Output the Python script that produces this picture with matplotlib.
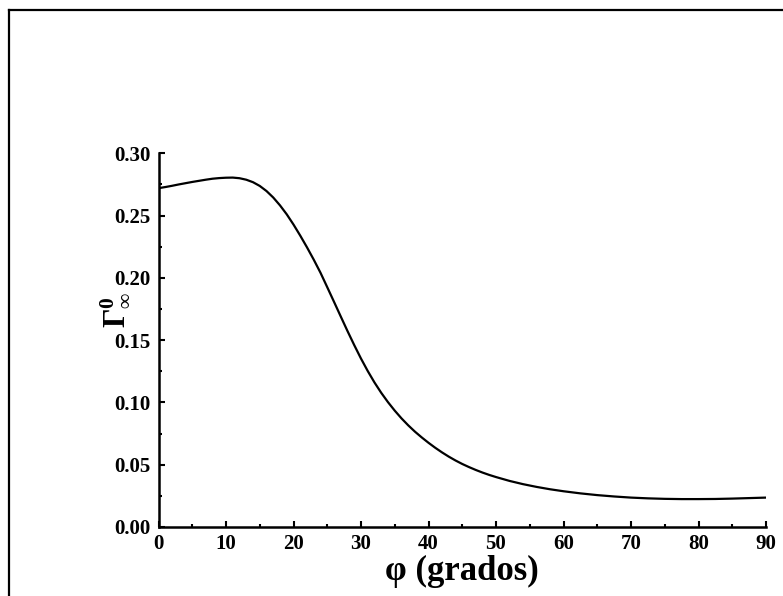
import matplotlib

matplotlib.use("Agg")
import matplotlib.pyplot as plt
import matplotlib.ticker as ticker
from matplotlib.lines import Line2D

# Curve
phi = list(range(0, 51)) + [52, 54, 56, 58, 60, 62.5, 65, 67.5, 70, 72.5,
                            75, 77.5, 80, 82.5, 85, 87.5, 90]
gamma = [0.2720, 0.2729, 0.2739, 0.2750, 0.2760, 0.2770, 0.2779, 0.2788,
         0.2796, 0.2801, 0.2804, 0.2805, 0.2800, 0.2788, 0.2768, 0.2738,
         0.2697, 0.2645, 0.2582, 0.2510, 0.2428, 0.2339, 0.2245, 0.2146,
         0.2041, 0.1925, 0.1808, 0.1690, 0.1573, 0.1460, 0.1352, 0.1252,
         0.1160, 0.1077, 0.1002, 0.0934, 0.0872, 0.0816, 0.0765, 0.0719,
         0.0676, 0.0636, 0.0599, 0.0565, 0.0534, 0.0506, 0.0481, 0.0458,
         0.0437, 0.0418, 0.0401,
         0.0370, 0.0344, 0.0322, 0.0303, 0.0287, 0.0270, 0.0256, 0.0245,
         0.0236, 0.0230, 0.0226, 0.0224, 0.0224, 0.0225, 0.0228, 0.0232,
         0.0236]

x_ticks = [0, 10, 20, 30, 40, 50, 60, 70, 80, 90]
y_ticks = [0.00, 0.05, 0.10, 0.15, 0.20, 0.25, 0.30]

plt.rcParams["font.family"] = ["Liberation Serif", "DejaVu Serif"]
plt.rcParams["font.weight"] = "bold"
plt.rcParams["mathtext.fontset"] = "custom"
plt.rcParams["mathtext.rm"] = "Liberation Serif:bold"
plt.rcParams["mathtext.it"] = "Liberation Serif:bold"
plt.rcParams["mathtext.bf"] = "Liberation Serif:bold"

W, H = 783, 596
fig = plt.figure(figsize=(W / 100, H / 100), dpi=100)
ax = fig.add_axes([158.5 / W, 1 - 527 / H, (766 - 158.5) / W, (527 - 153.3) / H])

ax.plot(phi, gamma, color="black", lw=1.6, solid_joinstyle="round")

ax.set_xlim(0, 90)
ax.set_ylim(0, 0.30)
ax.set_xticks(x_ticks)
ax.set_yticks(y_ticks)
ax.xaxis.set_minor_locator(ticker.MultipleLocator(5))
ax.yaxis.set_minor_locator(ticker.MultipleLocator(0.025))
ax.yaxis.set_major_formatter(ticker.FormatStrFormatter("%.2f"))

for side in ("top", "right"):
    ax.spines[side].set_visible(False)
for side in ("left", "bottom"):
    ax.spines[side].set_linewidth(1.8)

ax.tick_params(which="both", direction="in", width=1.5, labelsize=15)
ax.tick_params(which="major", length=4.5)
ax.tick_params(which="minor", length=2.5)
ax.tick_params(axis="x", which="major", pad=5)
ax.tick_params(axis="y", which="major", pad=5.5)
for lab in ax.get_xticklabels() + ax.get_yticklabels():
    lab.set_fontweight("bold")

# axis titles
ax.text((462 - 158.5) / 607.5, (527 - 571) / 373.7, "φ (grados)",
        transform=ax.transAxes, ha="center", va="center",
        fontsize=25, fontweight="bold")
ax.text((115 - 158.5) / 607.5, (527 - 310) / 373.7, r"$\Gamma^{0}_{\infty}$",
        transform=ax.transAxes, ha="center", va="center",
        fontsize=22, rotation=90)

# outer frame (top and left edges only)
fig.add_artist(Line2D([9 / W, 1], [1 - 10 / H, 1 - 10 / H], color="black", lw=1.6))
fig.add_artist(Line2D([9 / W, 9 / W], [0, 1 - 10 / H], color="black", lw=1.6))

fig.savefig("out.png", dpi=100)
